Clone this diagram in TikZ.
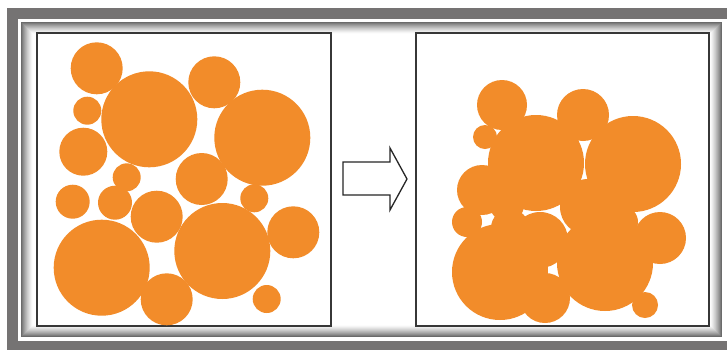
\documentclass[tikz,border=0pt]{standalone}
\definecolor{blobcol}{RGB}{242,140,42}
\definecolor{outergray}{RGB}{117,115,115}
\definecolor{framegray}{RGB}{55,55,55}
\begin{document}
\begin{tikzpicture}[x=1pt,y=-1pt,
  blob/.style={fill=blobcol},
  framebox/.style={draw=framegray,line width=1.6pt,fill=white},
  blockarrow/.style={draw=black!85,line width=1.3pt,fill=white,line join=miter}]
\useasboundingbox (0,0) rectangle (727,349);
\fill[white] (0,0) rectangle (727,349);
% outer gray frame (right side lies beyond the picture)
\fill[outergray] (7,8) rectangle (740,360);
\fill[white] (18,19) rectangle (740,341);
% bevelled inner panel
\foreach \i in {0,...,11}{
  \pgfmathsetmacro{\k}{int(58*(1-\i/12)^1.4)}
  \draw[black!\k, line width=1.05pt] (21.5+\i,22.5+\i) rectangle (721.5-\i,336.5-\i);
}
% picture frames
\draw[framebox] (37,33) rectangle (331,326);
\draw[framebox] (416,33) rectangle (709,326);
% block arrow
\draw[blockarrow] (343,162) -- (390,162) -- (390,148) -- (407,179) -- (390,210) -- (390,195) -- (343,195) -- cycle;
% left: loose circles
\foreach \x/\y/\r in {96.7/68.3/26, 149.3/119.3/48, 214.3/82.3/26, 262.3/137.7/48,
  87.3/110.7/14, 83.3/151.7/24, 126.7/177.3/14, 201.7/179/26, 72.7/201.7/17,
  115/202.7/17, 254.3/198.3/14, 156.7/216.7/26, 222.3/251/48, 293.3/232.3/26,
  101.7/267.7/48, 166.7/299.3/26, 266.7/299/14}{
  \fill[blob] (\x,\y) circle (\r);
}
% right: compacted circles
\foreach \x/\y/\r in {502/105/25, 536/163/48, 583/115/26, 633/164/48,
  485/137/12, 482/190/25, 507/205/17, 588/207/28, 467/222/15,
  510/228/19, 622/222/16, 540/240/28, 605/263/48, 660/238/26,
  500/272/48, 545/298/25, 645/305/13}{
  \fill[blob] (\x,\y) circle (\r);
}
\end{tikzpicture}
\end{document}
